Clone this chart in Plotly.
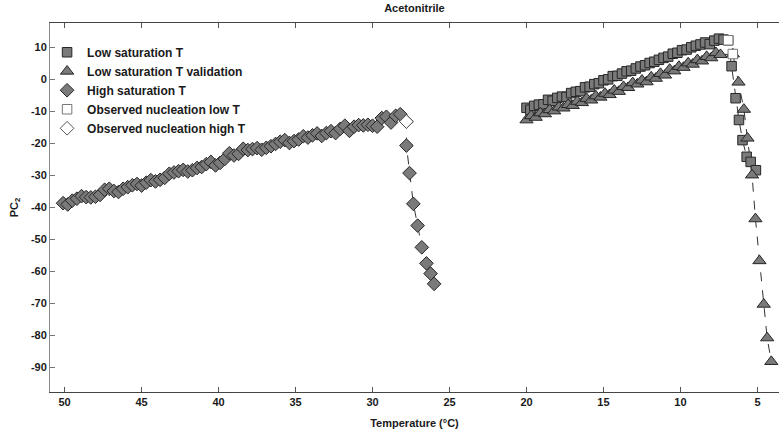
import plotly.graph_objects as go

# ---------------- data ----------------
high_T = [50.1, 49.8, 49.5, 49.2, 48.9, 48.6, 48.3, 48.0, 47.7, 47.4, 47.1, 46.8, 46.5, 46.2,
          45.9, 45.6, 45.3, 45.0, 44.7, 44.4, 44.1, 43.8, 43.5, 43.2, 42.9, 42.6, 42.3, 42.0,
          41.7, 41.4, 41.1, 40.8, 40.5, 40.2, 39.9, 39.6, 39.3, 39.0, 38.7, 38.4, 38.1, 37.8,
          37.5, 37.2, 36.9, 36.6, 36.3, 36.0, 35.7, 35.4, 35.1, 34.8, 34.5, 34.2, 33.9, 33.6,
          33.3, 33.0, 32.7, 32.4, 32.1, 31.8, 31.5, 31.2, 30.9, 30.6, 30.3, 30.0, 29.7, 29.4,
          29.1, 28.8, 28.5, 28.2, 27.8,
          27.8, 27.6, 27.35, 27.07, 26.8, 26.5, 26.23, 26.0]
high_PC2 = [-38.8, -39.2, -38.0, -37.4, -36.6, -36.9, -37.0, -36.8, -36.2, -34.6, -34.3, -35.0, -35.3, -34.3,
            -33.8, -33.2, -32.8, -33.3, -32.4, -31.6, -32.0, -31.5, -30.9, -29.6, -29.2, -28.8, -28.4, -28.9,
            -28.5, -27.8, -27.5, -26.6, -25.9, -27.0, -26.2, -25.0, -23.2, -23.9, -23.4, -21.8, -22.2, -21.9,
            -21.6, -22.1, -21.5, -21.0, -20.3, -19.6, -19.1, -20.0, -19.4, -18.9, -17.9, -18.3, -17.6, -17.0,
            -17.8, -16.9, -16.3, -16.9, -15.6, -14.6, -16.2, -14.9, -14.4, -14.5, -14.3, -14.6, -14.9, -12.2,
            -11.8, -13.6, -11.5, -11.0, -13.3,
            -20.8, -29.4, -39.0, -45.8, -52.6, -57.6, -60.8, -64.0]

low_T = [20.0, 19.75, 19.5, 19.2, 18.9, 18.6, 18.3, 18.0, 17.7, 17.4, 17.1, 16.8, 16.5, 16.2,
         15.9, 15.6, 15.3, 15.0, 14.7, 14.4, 14.1, 13.8, 13.5, 13.2, 12.9, 12.6, 12.3, 12.0,
         11.7, 11.4, 11.1, 10.8, 10.5, 10.2, 9.9, 9.6, 9.3, 9.0, 8.7, 8.4, 8.1, 7.8, 7.5, 7.2, 6.9,
         6.68, 6.42, 6.2, 5.97, 5.7, 5.44, 5.1]
low_PC2 = [-9.0, -9.6, -8.4, -8.0, -7.9, -6.5, -6.8, -5.9, -5.5, -5.6, -4.4, -4.0, -3.8, -2.6,
           -2.4, -1.6, -1.3, -0.4, -0.1, 0.9, 1.0, 1.7, 2.4, 2.6, 3.3, 3.9, 4.3, 5.0,
           5.4, 6.0, 6.6, 7.0, 7.9, 8.2, 9.0, 9.2, 9.9, 10.4, 10.8, 11.4, 10.9, 12.0, 12.6, 12.3, 12.1,
           4.0, -6.0, -12.8, -19.1, -24.3, -25.9, -28.5]

val_T = [20.0, 19.7, 19.4, 19.1, 18.8, 18.5, 18.2, 17.9, 17.6, 17.3, 17.0, 16.7, 16.4, 16.1,
         15.8, 15.5, 15.2, 14.9, 14.6, 14.3, 14.0, 13.7, 13.4, 13.1, 12.8, 12.5, 12.2, 11.9,
         11.6, 11.3, 11.0, 10.7, 10.4, 10.1, 9.8, 9.5, 9.2, 8.9, 8.6, 8.3, 8.0, 7.7, 7.4, 6.6,
         6.23, 5.88, 5.65, 5.35, 5.13, 4.87, 4.59, 4.37, 4.1]
val_PC2 = [-12.8, -11.5, -12.0, -10.6, -10.9, -9.6, -10.0, -8.8, -9.1, -8.0, -8.3, -7.0, -7.4, -6.1,
           -6.6, -5.3, -5.7, -4.5, -4.9, -3.5, -3.9, -2.4, -2.7, -1.2, -1.6, -0.4, -0.9, 0.6,
           0.2, 1.7, 1.2, 3.0, 2.5, 3.9, 3.6, 5.0, 4.6, 6.0, 5.6, 7.0, 6.6, 8.2, 7.6, 7.8,
           -1.0, -9.5, -18.5, -30.0, -43.7, -56.8, -70.4, -80.9, -88.3]

obs_low_T = [6.9, 6.6]
obs_low_PC2 = [12.1, 7.8]
obs_high_T = [27.8]
obs_high_PC2 = [-13.3]

x_ticks = [50, 45, 40, 35, 30, 25, 20, 15, 10, 5]
y_ticks = [10, 0, -10, -20, -30, -40, -50, -60, -70, -80, -90]

# ---------------- styling ----------------
FILL = "#7a7a7a"
EDGE = "#262626"
LINE = dict(color="#333333", width=1, dash="dash")

fig = go.Figure()
# connecting dashed lines (no legend entries)
for xs, ys in [(low_T, low_PC2), (val_T, val_PC2), (high_T, high_PC2)]:
    fig.add_trace(go.Scatter(x=xs, y=ys, mode="lines", line=LINE, showlegend=False, hoverinfo="skip"))

fig.add_trace(go.Scatter(x=low_T, y=low_PC2, mode="markers", name="Low saturation T",
                         marker=dict(symbol="square", size=9.5, color=FILL, line=dict(color=EDGE, width=1))))
fig.add_trace(go.Scatter(x=val_T, y=val_PC2, mode="markers", name="Low saturation T validation",
                         marker=dict(symbol="triangle-up", size=11.5, color=FILL, line=dict(color=EDGE, width=1))))
fig.add_trace(go.Scatter(x=high_T, y=high_PC2, mode="markers", name="High saturation T",
                         marker=dict(symbol="diamond", size=10.5, color=FILL, line=dict(color=EDGE, width=1))))
fig.add_trace(go.Scatter(x=obs_low_T, y=obs_low_PC2, mode="markers", name="Observed nucleation low T",
                         marker=dict(symbol="square", size=9.5, color="white", line=dict(color="#777777", width=1))))
fig.add_trace(go.Scatter(x=obs_high_T, y=obs_high_PC2, mode="markers", name="Observed nucleation high T",
                         marker=dict(symbol="diamond", size=10.5, color="white", line=dict(color="#555555", width=1))))

fig.update_layout(
    width=779, height=432,
    margin=dict(l=50, r=0, t=23, b=40),
    paper_bgcolor="white", plot_bgcolor="white",
    font=dict(family="Liberation Sans, Arial, sans-serif", size=11, color="#1a1a1a", weight="bold"),
    title=dict(text="Acetonitrile", x=0.532, xanchor="center", y=0.981, yanchor="middle",
               font=dict(size=11, weight="bold")),
    showlegend=True,
    legend=dict(x=-0.004, y=0.96, xanchor="left", yanchor="top", bgcolor="rgba(0,0,0,0)",
                font=dict(size=12, weight="bold"), itemwidth=30, tracegroupgap=0,
                traceorder="normal"),
    xaxis=dict(range=[50.95, 3.6], tickvals=x_ticks, ticktext=[str(v) for v in x_ticks],
               ticks="inside", ticklen=5, tickcolor="#555555",
               showline=True, linecolor="#444444", linewidth=1, mirror="ticks",
               showgrid=False, zeroline=False,
               title=dict(text="Temperature (°C)", standoff=12, font=dict(size=11, weight="bold"))),
    yaxis=dict(range=[-97.8, 17.5], tickvals=y_ticks, ticktext=[str(v) for v in y_ticks],
               ticks="inside", ticklen=5, tickcolor="#777777",
               showline=True, linecolor="#888888", linewidth=1,
               showgrid=False, zeroline=False,
               title=dict(text="PC<sub>2</sub>", standoff=10, font=dict(size=11, weight="bold"))),
)

fig.write_html("out.html")
